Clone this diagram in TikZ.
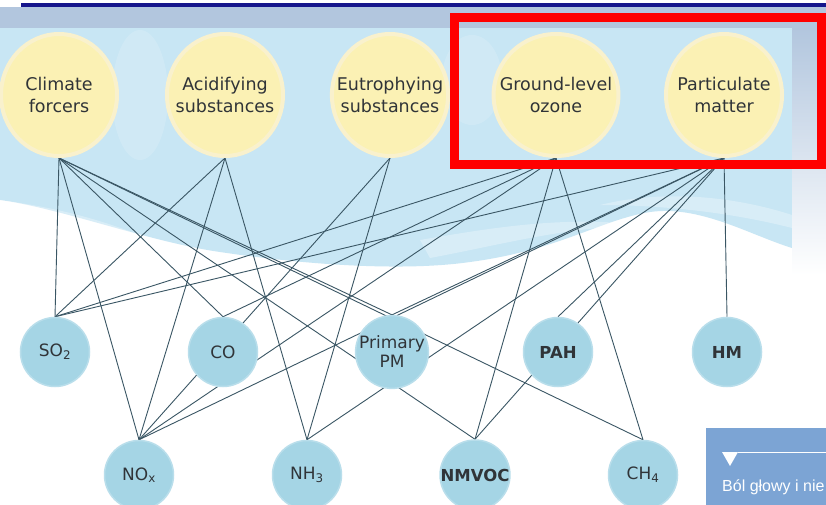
\documentclass[tikz,border=0pt]{standalone}
\usepackage{fontspec}
\setmainfont{DejaVu Sans}
\newfontfamily\boxfont{Liberation Sans}
\usetikzlibrary{shapes.geometric}
\pgfdeclarelayer{bg}
\pgfdeclarelayer{edges}
\pgfsetlayers{bg,edges,main}
\definecolor{navy}{RGB}{22,22,140}
\definecolor{band}{RGB}{178,198,222}
\definecolor{cloud}{RGB}{200,230,244}
\definecolor{sun}{RGB}{251,241,180}
\definecolor{sunedge}{RGB}{249,241,205}
\definecolor{bubble}{RGB}{165,213,229}
\definecolor{bubbleedge}{RGB}{185,222,235}
\definecolor{wire}{RGB}{58,86,100}
\definecolor{ink}{RGB}{48,52,56}
\definecolor{boxblue}{RGB}{124,164,212}
\begin{document}
\begin{tikzpicture}[x=1pt,y=-1pt,
  effect/.style={ellipse, fill=sun, draw=sunedge, line width=4pt, minimum width=116pt, minimum height=122pt,
    inner xsep=-12pt, inner ysep=0pt, align=center, font=\fontsize{17.5}{22}\selectfont, text=ink},
  pollutant/.style={circle, fill=bubble, draw=bubbleedge, line width=1.5pt, minimum size=69pt, inner sep=0pt,
    align=center, font=\fontsize{17}{19}\selectfont, text=ink},
  heavy/.style={font=\fontsize{16.5}{19}\selectfont\bfseries},
  link/.style={draw=wire, line width=0.9pt}]
\useasboundingbox (0,0) rectangle (826,505);

\begin{pgfonlayer}{bg}
  \fill[white] (0,0) rectangle (826,505);
  % cloud background
  \fill[cloud] (0,28) -- (792,28) -- (792,248)
    .. controls (750,235) and (700,205) .. (650,212)
    .. controls (600,220) and (560,250) .. (470,262)
    .. controls (400,272) and (300,264) .. (220,252)
    .. controls (150,242) and (60,208) .. (0,200) -- cycle;
  \fill[white, opacity=0.3] (0,200) .. controls (60,208) and (100,220) .. (140,235)
    .. controls (90,228) and (40,222) .. (0,222) -- cycle;
  \fill[white, opacity=0.3] (420,240) .. controls (480,230) and (560,215) .. (640,225)
    .. controls (560,228) and (500,245) .. (430,258) -- cycle;
  \fill[white, opacity=0.3] (600,205) .. controls (660,190) and (730,195) .. (792,215)
    -- (792,228) .. controls (730,212) and (660,205) .. (600,205) -- cycle;
  \fill[white, opacity=0.15] (140,95) ellipse (28pt and 65pt);
  \fill[white, opacity=0.15] (472,80) ellipse (30pt and 45pt);
  % right panel and top band
  \shade[top color=band, bottom color=white] (792,28) rectangle (826,275);
  \fill[band] (0,7) rectangle (826,28);
  \fill[navy] (21,3) rectangle (826,7);
  % bottom right box
  \fill[boxblue] (706,428) rectangle (826,505);
  \fill[white] (722,452) -- (738,452) -- (730,466) -- cycle;
  \draw[white, line width=0.8pt] (738,452.5) -- (826,452.5);
\end{pgfonlayer}

% effects (top)
\node[effect] (clim) at (59,95) {Climate\\forcers};
\node[effect] (acid) at (225,95) {Acidifying\\substances};
\node[effect] (eutr) at (390,95) {Eutrophying\\substances};
\node[effect] (ozon) at (556,95) {Ground-level\\ozone};
\node[effect] (part) at (724,95) {Particulate\\matter};

% pollutants
\node[pollutant] (so2) at (55,352) {SO\textsubscript{2}};
\node[pollutant] (co) at (223,352) {CO};
\node[pollutant] (ppm) at (392,352) {Primary\\PM};
\node[pollutant, heavy] (pah) at (558,352) {PAH};
\node[pollutant, heavy] (hm) at (727,352) {HM};
\node[pollutant] (nox) at (139,475) {NO\textsubscript{x}};
\node[pollutant] (nh3) at (307,475) {NH\textsubscript{3}};
\node[pollutant, heavy] (nmvoc) at (475,475) {NMVOC};
\node[pollutant] (ch4) at (643,475) {CH\textsubscript{4}};

\begin{pgfonlayer}{edges}
  \foreach \a/\b in {clim/so2, clim/nox, clim/co, clim/ppm, clim/nmvoc, clim/ch4,
      acid/so2, acid/nox, acid/nh3,
      eutr/nox, eutr/nh3,
      ozon/so2, ozon/nox, ozon/co, ozon/nmvoc, ozon/ch4,
      part/so2, part/nox, part/nh3, part/ppm, part/nmvoc, part/pah, part/hm}
    \draw[link] (\a.south) -- (\b.north);
\end{pgfonlayer}

\node[anchor=base west, text=white, inner sep=0pt, font=\boxfont\fontsize{16}{18}\selectfont] (boxtext) at (722,491) {Ból głowy i nie};

\draw[red, line width=9pt] (454.5,17.5) rectangle (821.5,164.5);
\end{tikzpicture}
\end{document}
